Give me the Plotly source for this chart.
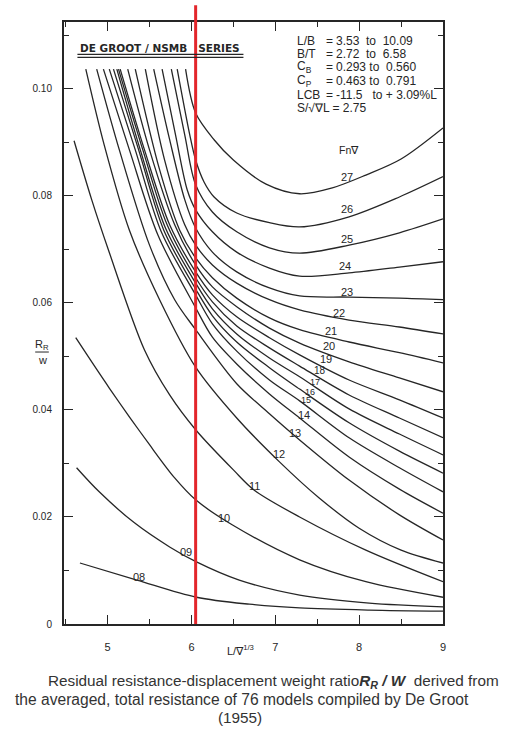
import plotly.graph_objects as go

# ---- data: x = L / vol^(1/3), y = Rr / W ----
x_27 = [5.93, 6.05, 6.27, 6.50, 6.89, 7.29, 7.68, 8.08, 8.50, 9.00]
y_27 = [0.1037, 0.0955, 0.0905, 0.0867, 0.0822, 0.0804, 0.0815, 0.0839, 0.0869, 0.0927]
x_26 = [5.83, 5.98, 6.05, 6.15, 6.27, 6.54, 6.93, 7.29, 7.88, 8.48, 9.00]
y_26 = [0.1037, 0.0914, 0.0867, 0.0826, 0.0798, 0.0768, 0.0750, 0.0742, 0.0761, 0.0798, 0.0836]
x_25 = [5.76, 5.92, 6.05, 6.25, 6.54, 6.93, 7.29, 7.88, 8.48, 9.00]
y_25 = [0.1037, 0.0914, 0.0821, 0.0770, 0.0733, 0.0703, 0.0693, 0.0708, 0.0731, 0.0757]
x_24 = [5.65, 5.81, 5.95, 6.05, 6.25, 6.54, 6.93, 7.29, 7.88, 8.48, 9.00]
y_24 = [0.1037, 0.0914, 0.0811, 0.0774, 0.0733, 0.0695, 0.0665, 0.0650, 0.0656, 0.0667, 0.0677]
x_23 = [5.55, 5.74, 5.92, 6.05, 6.25, 6.54, 6.93, 7.29, 7.88, 8.48, 9.00]
y_23 = [0.1037, 0.0905, 0.0793, 0.0740, 0.0695, 0.0658, 0.0628, 0.0613, 0.0611, 0.0609, 0.0606]
x_22 = [5.45, 5.68, 5.92, 6.05, 6.25, 6.54, 6.93, 7.29, 7.88, 8.48, 9.00]
y_22 = [0.1037, 0.0867, 0.0746, 0.0708, 0.0671, 0.0637, 0.0606, 0.0587, 0.0568, 0.0555, 0.0542]
x_21 = [5.33, 5.62, 5.86, 6.05, 6.25, 6.54, 6.93, 7.29, 7.88, 8.48, 9.00]
y_21 = [0.1037, 0.0849, 0.0736, 0.0684, 0.0647, 0.0609, 0.0572, 0.0550, 0.0527, 0.0507, 0.0488]
x_20 = [5.24, 5.50, 5.80, 6.05, 6.25, 6.54, 6.93, 7.29, 7.88, 8.48, 9.00]
y_20 = [0.1037, 0.0886, 0.0746, 0.0671, 0.0630, 0.0593, 0.0553, 0.0525, 0.0490, 0.0460, 0.0434]
x_19 = [5.15, 5.44, 5.74, 6.05, 6.25, 6.54, 6.93, 7.29, 7.88, 8.48, 9.00]
y_19 = [0.1037, 0.0886, 0.0746, 0.0658, 0.0615, 0.0574, 0.0535, 0.0503, 0.0456, 0.0419, 0.0385]
x_18 = [5.13, 5.42, 5.71, 6.05, 6.25, 6.54, 6.93, 7.29, 7.88, 8.48, 9.00]
y_18 = [0.1037, 0.0886, 0.0746, 0.0647, 0.0602, 0.0557, 0.0516, 0.0482, 0.0428, 0.0385, 0.0348]
x_17 = [5.11, 5.39, 5.69, 6.05, 6.25, 6.54, 6.93, 7.29, 7.88, 8.48, 9.00]
y_17 = [0.1037, 0.0886, 0.0740, 0.0637, 0.0589, 0.0542, 0.0497, 0.0462, 0.0402, 0.0355, 0.0316]
x_16 = [5.07, 5.37, 5.67, 6.05, 6.25, 6.54, 6.93, 7.29, 7.88, 8.48, 9.00]
y_16 = [0.1037, 0.0886, 0.0736, 0.0626, 0.0576, 0.0527, 0.0479, 0.0439, 0.0376, 0.0323, 0.0282]
x_15 = [5.02, 5.33, 5.64, 6.05, 6.25, 6.54, 6.93, 7.29, 7.88, 8.48, 9.00]
y_15 = [0.1037, 0.0886, 0.0733, 0.0615, 0.0561, 0.0510, 0.0456, 0.0417, 0.0348, 0.0292, 0.0247]
x_14 = [4.95, 5.26, 5.60, 6.05, 6.25, 6.54, 6.93, 7.29, 7.88, 8.48, 9.00]
y_14 = [0.1037, 0.0886, 0.0727, 0.0591, 0.0536, 0.0486, 0.0430, 0.0385, 0.0312, 0.0252, 0.0207]
x_13 = [4.87, 5.14, 5.50, 5.80, 6.05, 6.54, 6.93, 7.29, 7.88, 8.48, 9.00]
y_13 = [0.1037, 0.0886, 0.0708, 0.0606, 0.0550, 0.0449, 0.0393, 0.0344, 0.0269, 0.0204, 0.0157]
x_12 = [4.74, 4.96, 5.26, 5.62, 6.05, 6.54, 7.05, 7.52, 8.00, 8.50, 9.00]
y_12 = [0.1037, 0.0895, 0.0736, 0.0606, 0.0480, 0.0385, 0.0303, 0.0236, 0.0179, 0.0138, 0.0114]
x_11 = [4.60, 4.81, 5.01, 5.44, 5.74, 6.05, 6.50, 6.75, 7.29, 8.08, 9.00]
y_11 = [0.0903, 0.0793, 0.0699, 0.0512, 0.0428, 0.0363, 0.0288, 0.0250, 0.0200, 0.0138, 0.0079]
x_10 = [4.62, 5.02, 5.50, 5.80, 6.05, 6.49, 7.29, 8.08, 9.00]
y_10 = [0.0535, 0.0441, 0.0335, 0.0273, 0.0232, 0.0185, 0.0120, 0.0079, 0.0050]
x_09 = [4.63, 4.90, 5.32, 5.74, 6.06, 6.57, 7.29, 8.12, 9.00]
y_09 = [0.0292, 0.0247, 0.0189, 0.0144, 0.0116, 0.0082, 0.0054, 0.0039, 0.0032]
x_08 = [4.67, 5.35, 6.06, 6.69, 7.29, 8.12, 9.00]
y_08 = [0.0114, 0.0082, 0.0050, 0.0037, 0.0030, 0.0026, 0.0024]

# curve labels (Fn) and where they are written
fn_labels = ["08", "09", "10", "11", "12", "13", "14", "15", "16", "17",
             "18", "19", "20", "21", "22", "23", "24", "25", "26", "27"]
label_x = [5.38, 5.94, 6.39, 6.75, 7.05, 7.24, 7.34, 7.37, 7.41, 7.47,
           7.53, 7.60, 7.64, 7.67, 7.76, 7.86, 7.83, 7.85, 7.85, 7.85]
label_y = [0.0088, 0.0135, 0.0198, 0.0258, 0.0318, 0.0357, 0.0391, 0.0418, 0.0433, 0.0452,
           0.0474, 0.0495, 0.0520, 0.0548, 0.0581, 0.0621, 0.0669, 0.0720, 0.0776, 0.0836]
label_size = [11, 11, 11, 11, 11, 11, 11, 9, 9, 9,
              10, 11, 11, 11, 11, 11, 11, 11, 11, 11]

marked_x = 6.05  # red vertical marker

x_tick_vals = [5, 6, 7, 8, 9]
x_tick_text = ["5", "6", "7", "8", "9"]
y_tick_vals = [0, 0.02, 0.04, 0.06, 0.08, 0.10]
y_tick_text = ["0", "0.02", "0.04", "0.06", "0.08", "0.10"]

param_names = ["L/B", "B/T", "C<sub>B</sub>", "C<sub>P</sub>", "LCB"]
param_values = ["3.53  to  10.09", "2.72  to  6.58", "0.293 to  0.560",
                "0.463 to  0.791", "-11.5   to + 3.09%L"]
speed_text = "S/√∇L = 2.75"

curves = [(x_08, y_08), (x_09, y_09), (x_10, y_10), (x_11, y_11), (x_12, y_12),
          (x_13, y_13), (x_14, y_14), (x_15, y_15), (x_16, y_16), (x_17, y_17),
          (x_18, y_18), (x_19, y_19), (x_20, y_20), (x_21, y_21), (x_22, y_22),
          (x_23, y_23), (x_24, y_24), (x_25, y_25), (x_26, y_26), (x_27, y_27)]

INK = "#262626"
FONT = "Liberation Sans, Arial, sans-serif"

fig = go.Figure()
for (cx, cy), name in zip(curves, fn_labels):
    fig.add_trace(go.Scatter(x=cx, y=cy, mode="lines", name=name,
                             line=dict(color=INK, width=1.3, shape="spline", smoothing=0.9),
                             hoverinfo="skip", showlegend=False))

ann = []
for t, lx, ly, ls in zip(fn_labels, label_x, label_y, label_size):
    ann.append(dict(x=lx, y=ly, xref="x", yref="y", text=t, showarrow=False,
                    font=dict(family=FONT, size=ls, color=INK)))
ann.append(dict(x=7.88, y=0.0886, xref="x", yref="y", text="Fn∇", showarrow=False,
                font=dict(family=FONT, size=10.5, color=INK)))

row_y = [0.1090, 0.1065, 0.1041, 0.1015, 0.0989]
for nm, val, ry in zip(param_names, param_values, row_y):
    ann.append(dict(x=7.24, y=ry, xref="x", yref="y", text=nm, showarrow=False,
                    xanchor="left", yanchor="middle", font=dict(family=FONT, size=12, color=INK)))
    ann.append(dict(x=7.58, y=ry, xref="x", yref="y", text="=",
                    showarrow=False, xanchor="left", yanchor="middle",
                    font=dict(family=FONT, size=12, color=INK)))
    ann.append(dict(x=7.70, y=ry, xref="x", yref="y", text=val, showarrow=False,
                    xanchor="left", yanchor="middle", font=dict(family=FONT, size=12, color=INK)))
ann.append(dict(x=7.24, y=0.0964, xref="x", yref="y", text=speed_text, showarrow=False,
                xanchor="left", yanchor="middle", font=dict(family=FONT, size=12, color=INK)))

ann.append(dict(x=5.63, y=0.1077, xref="x", yref="y", text="<b>DE GROOT / NSMB   SERIES</b>",
                showarrow=False, font=dict(family="DejaVu Sans, sans-serif", size=10.5, color=INK)))

# axis titles
ann.append(dict(x=-0.058, y=0.4635, xref="paper", yref="paper", text="R<sub>R</sub>",
                xanchor="center", yanchor="middle",
                showarrow=False, font=dict(family=FONT, size=11, color=INK)))
ann.append(dict(x=-0.058, y=0.4385, xref="paper", yref="paper", text="w",
                xanchor="center", yanchor="middle",
                showarrow=False, font=dict(family=FONT, size=11, color=INK)))
ann.append(dict(x=0.4644, y=-0.0432, xref="paper", yref="paper", text="L/∇<sup>1/3</sup>",
                xanchor="center", yanchor="middle",
                showarrow=False, font=dict(family=FONT, size=11, color=INK)))

# caption
CAP = "#333333"
ann.append(dict(x=-0.047, y=-0.0963, xref="paper", yref="paper", xanchor="left", yanchor="middle",
                text="Residual resistance-displacement weight ratio<b><i>R<sub>R</sub> / W</i></b>  derived from",
                showarrow=False, font=dict(family=FONT, size=15.3, color=CAP)))
ann.append(dict(x=-0.1346, y=-0.1262, xref="paper", yref="paper", xanchor="left", yanchor="middle",
                text="the averaged, total resistance of 76 models compiled by De Groot",
                showarrow=False, font=dict(family=FONT, size=15.6, color=CAP)))
ann.append(dict(x=0.4644, y=-0.1561, xref="paper", yref="paper", xanchor="center", yanchor="middle",
                text="(1955)", showarrow=False, font=dict(family=FONT, size=15.3, color=CAP)))

shapes = [
    dict(type="line", xref="x", yref="paper", x0=marked_x, x1=marked_x, y0=0, y1=1.028,
         line=dict(color="#e3262b", width=3), layer="above"),
    dict(type="line", xref="x", yref="y", x0=4.64, x1=6.62, y0=0.10645, y1=0.10645,
         line=dict(color=INK, width=1.2)),
    dict(type="line", xref="x", yref="y", x0=4.64, x1=6.62, y0=0.10590, y1=0.10590,
         line=dict(color=INK, width=1.2)),
    dict(type="line", xref="paper", yref="paper", x0=-0.076, x1=-0.040, y0=0.4518, y1=0.4518,
         line=dict(color=INK, width=1)),
]

fig.update_layout(
    width=510, height=729,
    margin=dict(l=64, r=67, t=22, b=105),
    paper_bgcolor="white", plot_bgcolor="white",
    annotations=ann, shapes=shapes,
    font=dict(family=FONT, size=10, color=INK),
)
fig.update_xaxes(range=[4.48, 9.0], showgrid=False, zeroline=False,
                 showline=True, linecolor=INK, linewidth=2, mirror="ticks",
                 ticks="inside", ticklen=9, tickwidth=1.3, tickcolor=INK,
                 tickvals=x_tick_vals, ticktext=x_tick_text, ticklabelstandoff=12,
                 tickfont=dict(family=FONT, size=11, color=INK),
                 minor=dict(ticks="inside", ticklen=5, tickwidth=1, tickcolor=INK, dtick=0.5,
                            tick0=4.5, showgrid=False))
fig.update_yaxes(range=[0, 0.1125], showgrid=False, zeroline=False,
                 showline=True, linecolor=INK, linewidth=2, mirror="ticks",
                 ticks="inside", ticklen=9, tickwidth=1.3, tickcolor=INK,
                 tickvals=y_tick_vals, ticktext=y_tick_text, ticklabelstandoff=8,
                 tickfont=dict(family=FONT, size=10, color=INK),
                 minor=dict(ticks="inside", ticklen=5, tickwidth=1, tickcolor=INK, dtick=0.01,
                            tick0=0, showgrid=False))

fig.write_html("out.html", config={"displayModeBar": False},
               post_script="document.body.style.margin='0';document.body.style.overflow='hidden';")
